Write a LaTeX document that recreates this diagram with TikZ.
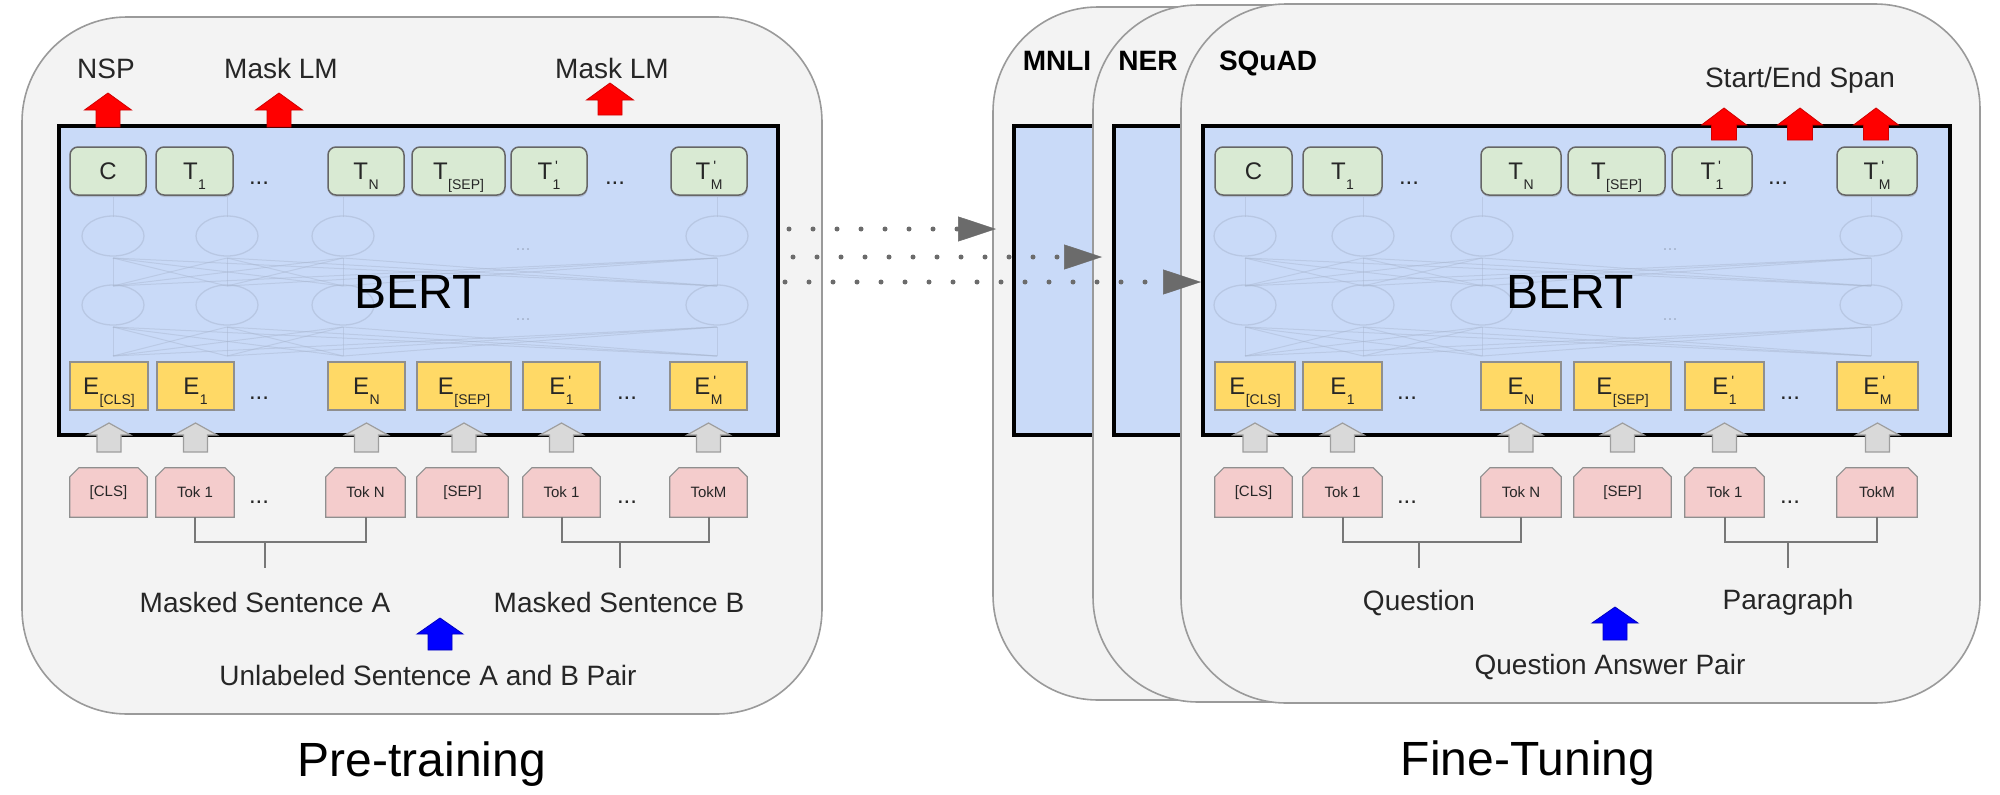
\documentclass[tikz,border=0pt]{standalone}
\usepackage{fontspec}
\setmainfont{Liberation Sans}
\usetikzlibrary{arrows.meta,shadows}

\definecolor{bertblue}{HTML}{C9DAF8}
\definecolor{tgreen}{HTML}{D9EAD3}
\definecolor{eyellow}{HTML}{FFD966}
\definecolor{tokpink}{HTML}{F4CCCC}
\definecolor{panelfill}{HTML}{F3F3F3}
\definecolor{panelline}{HTML}{9A9A9A}
\definecolor{boxline}{HTML}{666666}
\definecolor{thinline}{HTML}{8F8F8F}
\definecolor{arrowgray}{HTML}{D9D9D9}
\definecolor{arrowgrayline}{HTML}{9E9E9E}
\definecolor{arrowred}{HTML}{FF0000}
\definecolor{arrowredline}{HTML}{D00000}
\definecolor{arrowblue}{HTML}{0000FF}
\definecolor{arrowblueline}{HTML}{0000C0}
\definecolor{dotgray}{HTML}{6B6B6B}
\definecolor{netline}{HTML}{A8B6CF}
\definecolor{brkline}{HTML}{777777}
\definecolor{txt}{HTML}{262626}

% font size in pt (1pt = 1 unit of the picture)
\newcommand{\FS}[1]{\fontsize{#1}{#1}\selectfont}
% letter with subscript and optional prime stacked above it
\newcommand{\SubSup}[3]{#1\rlap{\raisebox{7.5pt}[0pt][0pt]{\FS{15}\hspace{3pt}#3}}\raisebox{-10pt}[0pt][0pt]{\FS{14}\hspace{0.5pt}#2}}
\newcommand{\PrimeMark}{\textquotesingle}

% output row, embedding row and token row boxes: name, left x, right x, label
\newcommand{\Tbox}[4]{\node[tbx, minimum width={#3-#2}] (#1) at ({(#2+#3)/2},171) {#4};}
\newcommand{\Ebox}[4]{\node[ebx, minimum width={#3-#2}] (#1) at ({(#2+#3)/2},386) {#4};}
\newcommand{\Kbox}[4]{%
  \node[kbx, minimum width={#3-#2}] (#1) at ({(#2+#3)/2},492.5) {};
  \draw[kbdraw] (#1.south west) -- ([yshift=-9pt]#1.north west) -- ([xshift=9pt]#1.north west)
     -- ([xshift=-9pt]#1.north east) -- ([yshift=-9pt]#1.north east) -- (#1.south east) -- cycle;
  \node[kblabel] (#1-l) at (#1) {#4};}

% block arrow pointing up: x, tip y, head base y, bottom y, head width, shaft width, style
\newcommand{\BlockUp}[7]{\draw[#7] (#1,#2) -- ({#1+#5/2},#3) -- ({#1+#6/2},#3) -- ({#1+#6/2},#4)
   -- ({#1-#6/2},#4) -- ({#1-#6/2},#3) -- ({#1-#5/2},#3) -- cycle;}

% faint two-layer network inside a BERT box: columns, x of the dots, name prefix
\newcommand{\NetLayer}[3]{%
  \foreach \a in {#1}{%
    \foreach \b in {#1}{%
      \draw[netl] (\a,356) -- (\b,327);
      \draw[netl] (\a,286) -- (\b,258);
    }
    \draw[netl] (\a,217) -- (\a,197);
    \draw[netell] (\a,236) ellipse [x radius=31, y radius=20];
    \draw[netell] (\a,305) ellipse [x radius=31, y radius=20];
  }
  \node[netdot] (#3a) at (#2,250) {...};
  \node[netdot] (#3b) at (#2,320) {...};
}

\begin{document}
\begin{tikzpicture}[x=1pt,y=-1pt,
  panel/.style={draw=panelline, fill=panelfill, line width=1.6pt, rounded corners=105pt, inner sep=0pt},
  bertbox/.style={draw=black, fill=bertblue, line width=4pt, inner sep=0pt, minimum height=309},
  tbx/.style={draw=boxline, fill=tgreen, line width=1.5pt, rounded corners=8pt, minimum height=48,
    inner sep=0pt, font={\FS{24}}, text=txt,
    drop shadow={shadow xshift=0.5pt, shadow yshift=-2pt, opacity=0.3}},
  ebx/.style={draw=thinline, fill=eyellow, line width=1.2pt, minimum height=48, inner sep=0pt,
    font={\FS{24}}, text=txt},
  kbx/.style={minimum height=49, inner sep=0pt},
  kbdraw/.style={draw=thinline, fill=tokpink, line width=1.2pt},
  kblabel/.style={inner sep=0pt, font={\FS{15}}, text=txt},
  garr/.style={draw=arrowgrayline, fill=arrowgray, line width=1.2pt},
  rarr/.style={draw=arrowredline, fill=arrowred, line width=0.8pt},
  barr/.style={draw=arrowblueline, fill=arrowblue, line width=0.8pt},
  brk/.style={draw=brkline, line width=2pt},
  lab/.style={anchor=base, inner sep=0pt, font={\FS{28}}, text=txt},
  task/.style={anchor=base, inner sep=0pt, font={\bfseries\FS{28}}, text=black},
  big/.style={anchor=base, inner sep=0pt, font={\FS{48}}, text=black},
  dotl/.style={anchor=base, inner sep=0pt, font={\FS{24}}, text=txt},
  netl/.style={draw=netline, line width=1pt, opacity=0.45},
  netell/.style={draw=netline, line width=1.3pt, opacity=0.5},
  netdot/.style={inner sep=0pt, font={\FS{18}}, text=netline},
  dotarrow/.style={draw=dotgray, line width=5pt, line cap=round, dash pattern=on 0pt off 24pt,
    -{Triangle[length=38pt,width=25pt,line width=0.5pt]}}
]
\useasboundingbox (0,0) rectangle (2000,795);
\fill[white] (0,0) rectangle (2000,795);

%================ Pre-training ================
\node[panel, minimum width=800, minimum height=697] (lpanel) at (422,365.5) {};
\node[bertbox, minimum width=719] (lbert) at (418.5,280.5) {};
\NetLayer{113,227,343,717}{523}{lnet}
\node[big] (lbertt) at (418,308) {BERT};

\Tbox{lC}{70}{146}{C}
\Tbox{lT1}{156}{233}{\SubSup{T}{1}{}}
\Tbox{lTN}{328}{404}{\SubSup{T}{N}{}}
\Tbox{lTS}{412}{505}{\SubSup{T}{[SEP]}{}}
\Tbox{lT1p}{511}{587}{\SubSup{T}{1}{\PrimeMark}}
\Tbox{lTM}{671}{747}{\SubSup{T}{M}{\PrimeMark}}
\node[dotl] (ltd1) at (259,184) {...};
\node[dotl] (ltd2) at (615,184) {...};

\Ebox{lE0}{70}{148}{\SubSup{E}{[CLS]}{}}
\Ebox{lE1}{157}{234}{\SubSup{E}{1}{}}
\Ebox{lEN}{328}{405}{\SubSup{E}{N}{}}
\Ebox{lES}{417}{511}{\SubSup{E}{[SEP]}{}}
\Ebox{lE1p}{523}{600}{\SubSup{E}{1}{\PrimeMark}}
\Ebox{lEM}{670}{747}{\SubSup{E}{M}{\PrimeMark}}
\node[dotl] (led1) at (259,399) {...};
\node[dotl] (led2) at (627,399) {...};

\Kbox{lK0}{70}{147}{[CLS]}
\Kbox{lK1}{156}{234}{Tok 1}
\Kbox{lKN}{326}{405}{Tok N}
\Kbox{lKS}{417}{508}{[SEP]}
\Kbox{lK1p}{523}{600}{Tok 1}
\Kbox{lKM}{670}{747}{TokM}
\node[dotl] (lkd1) at (259,503) {...};
\node[dotl] (lkd2) at (627,503) {...};

% embedding inputs
\foreach \x in {109,195.5,366.5,464,561.5,708.5}{\BlockUp{\x}{423}{435}{452}{43}{24}{garr}}
% pre-training outputs
\BlockUp{108}{93}{110}{127}{47}{24}{rarr}
\BlockUp{279}{93}{110}{127}{47}{24}{rarr}
\BlockUp{610}{83}{100}{115}{47}{24}{rarr}
\node[lab] (nsp) at (106,78) {NSP};
\node[lab] (mlm1) at (281,78) {Mask LM};
\node[lab] (mlm2) at (612,78) {Mask LM};

% sentence brackets
\coordinate (sa) at (265,542);
\coordinate (sb) at (620,542);
\draw[brk] (lK1.south) -- (lK1.south |- sa) -- (lKN.south |- sa) -- (lKN.south);
\draw[brk] (sa) -- ++(0,26);
\draw[brk] (lK1p.south) -- (lK1p.south |- sb) -- (lKM.south |- sb) -- (lKM.south);
\draw[brk] (sb) -- ++(0,26);
\node[lab] (lsa) at (265,612) {Masked Sentence A};
\node[lab] (lsb) at (619,612) {Masked Sentence B};
\BlockUp{440}{618}{634}{650}{46}{24}{barr}
\node[lab] (lun) at (428,685) {Unlabeled Sentence A and B Pair};
\node[big] (pre) at (422,776) {Pre-training};

%================ Fine-Tuning ================
\node[panel, minimum width=799, minimum height=693] (mpanel) at (1392.5,353.5) {};
\node[bertbox, minimum width=747] (mbox) at (1387.5,280.5) {};
\node[task] (mnli) at (1057,70) {MNLI};
\node[panel, minimum width=799, minimum height=697] (npanel) at (1492.5,353.5) {};
\node[bertbox, minimum width=747] (nbox) at (1487.5,280.5) {};
\node[task] (ner) at (1148,70) {NER};
\node[panel, minimum width=799, minimum height=699] (spanel) at (1580.5,353.5) {};
\node[bertbox, minimum width=747] (sbox) at (1576.5,280.5) {};
\node[task] (squad) at (1268,70) {SQuAD};
\NetLayer{1245,1363,1482,1871}{1670}{rnet}
\node[big] (rbertt) at (1570,308) {BERT};

\Tbox{rC}{1215}{1292}{C}
\Tbox{rT1}{1303}{1382}{\SubSup{T}{1}{}}
\Tbox{rTN}{1481}{1561}{\SubSup{T}{N}{}}
\Tbox{rTS}{1568}{1665}{\SubSup{T}{[SEP]}{}}
\Tbox{rT1p}{1672}{1752}{\SubSup{T}{1}{\PrimeMark}}
\Tbox{rTM}{1837}{1917}{\SubSup{T}{M}{\PrimeMark}}
\node[dotl] (rtd1) at (1409,184) {...};
\node[dotl] (rtd2) at (1778,184) {...};

\Ebox{rE0}{1215}{1295}{\SubSup{E}{[CLS]}{}}
\Ebox{rE1}{1303}{1382}{\SubSup{E}{1}{}}
\Ebox{rEN}{1481}{1561}{\SubSup{E}{N}{}}
\Ebox{rES}{1574}{1671}{\SubSup{E}{[SEP]}{}}
\Ebox{rE1p}{1685}{1764}{\SubSup{E}{1}{\PrimeMark}}
\Ebox{rEM}{1837}{1918}{\SubSup{E}{M}{\PrimeMark}}
\node[dotl] (red1) at (1407,399) {...};
\node[dotl] (red2) at (1790,399) {...};

\Kbox{rK0}{1215}{1292}{[CLS]}
\Kbox{rK1}{1303}{1382}{Tok 1}
\Kbox{rKN}{1481}{1561}{Tok N}
\Kbox{rKS}{1574}{1671}{[SEP]}
\Kbox{rK1p}{1685}{1764}{Tok 1}
\Kbox{rKM}{1837}{1917}{TokM}
\node[dotl] (rkd1) at (1407,503) {...};
\node[dotl] (rkd2) at (1790,503) {...};

\foreach \x in {1255,1342.5,1521,1622.5,1724.5,1877.5}{\BlockUp{\x}{423}{435}{452}{43}{24}{garr}}
\BlockUp{1724}{108}{125}{140}{45}{25}{rarr}
\BlockUp{1800}{108}{125}{140}{45}{25}{rarr}
\BlockUp{1876}{108}{125}{140}{45}{25}{rarr}
\node[lab] (span) at (1800,87) {Start/End Span};

\coordinate (sq) at (1419,542);
\coordinate (sp) at (1788,542);
\draw[brk] (rK1.south) -- (rK1.south |- sq) -- (rKN.south |- sq) -- (rKN.south);
\draw[brk] (sq) -- ++(0,26);
\draw[brk] (rK1p.south) -- (rK1p.south |- sp) -- (rKM.south |- sp) -- (rKM.south);
\draw[brk] (sp) -- ++(0,26);
\node[lab] (rq) at (1419,610) {Question};
\node[lab] (rp) at (1788,609) {Paragraph};
\BlockUp{1615}{607}{623}{640}{46}{24}{barr}
\node[lab] (rqa) at (1610,674) {Question Answer Pair};
\node[big] (ft) at (1528,775) {Fine-Tuning};

%================ transfer arrows ================
\coordinate (r1) at (0,229);
\coordinate (r2) at (0,257);
\coordinate (r3) at (0,282);
\draw[dotarrow, shorten <=9pt, shorten >=16pt] (lbert.east |- r1) -- (mbox.west |- r1);
\draw[dotarrow, shorten <=13pt, shorten >=10pt] (lbert.east |- r2) -- (nbox.west |- r2);
\draw[dotarrow, shorten <=5pt] (lbert.east |- r3) -- (sbox.west |- r3);
\end{tikzpicture}
\end{document}
